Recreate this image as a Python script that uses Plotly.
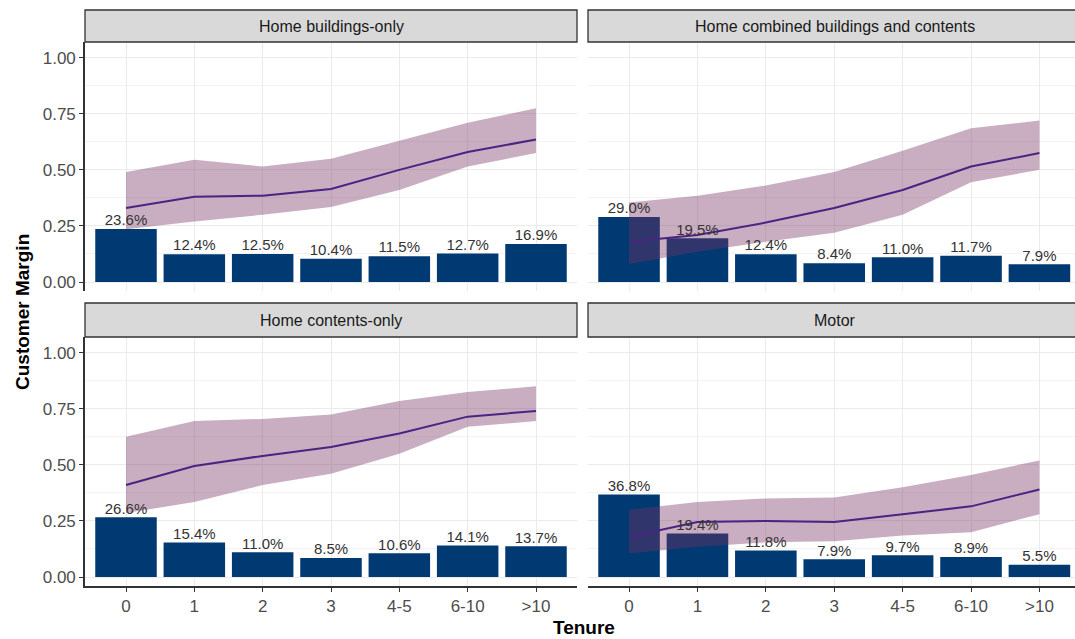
import plotly.graph_objects as go

# Tenure bands shown along the x axis of every panel
tenure = ["0", "1", "2", "3", "4-5", "6-10", ">10"]

# Panel titles (facet order: top-left, top-right, bottom-left, bottom-right)
products = [
    "Home buildings-only",
    "Home combined buildings and contents",
    "Home contents-only",
    "Motor",
]

# Share of customers in each tenure band (bars)
share_buildings = [0.236, 0.124, 0.125, 0.104, 0.115, 0.127, 0.169]
share_combined = [0.290, 0.195, 0.124, 0.084, 0.110, 0.117, 0.079]
share_contents = [0.266, 0.154, 0.110, 0.085, 0.106, 0.141, 0.137]
share_motor = [0.368, 0.194, 0.118, 0.079, 0.097, 0.089, 0.055]

# Average customer margin by tenure (line)
margin_buildings = [0.33, 0.38, 0.385, 0.415, 0.50, 0.58, 0.635]
margin_combined = [0.18, 0.21, 0.265, 0.33, 0.41, 0.515, 0.575]
margin_contents = [0.41, 0.495, 0.54, 0.58, 0.64, 0.715, 0.74]
margin_motor = [0.18, 0.245, 0.25, 0.245, 0.28, 0.315, 0.39]

# Interval around the margin (ribbon)
lower_buildings = [0.235, 0.27, 0.30, 0.335, 0.41, 0.515, 0.575]
upper_buildings = [0.49, 0.545, 0.515, 0.55, 0.63, 0.71, 0.775]
lower_combined = [0.08, 0.135, 0.18, 0.22, 0.30, 0.445, 0.50]
upper_combined = [0.355, 0.385, 0.43, 0.49, 0.585, 0.685, 0.72]
lower_contents = [0.285, 0.335, 0.41, 0.46, 0.55, 0.67, 0.695]
upper_contents = [0.625, 0.695, 0.705, 0.725, 0.785, 0.825, 0.85]
lower_motor = [0.105, 0.135, 0.155, 0.16, 0.185, 0.20, 0.28]
upper_motor = [0.30, 0.335, 0.35, 0.355, 0.40, 0.455, 0.52]

panels = [
    (share_buildings, margin_buildings, lower_buildings, upper_buildings),
    (share_combined, margin_combined, lower_combined, upper_combined),
    (share_contents, margin_contents, lower_contents, upper_contents),
    (share_motor, margin_motor, lower_motor, upper_motor),
]

BAR = "#013a72"
LINE = "#4a2383"
RIBBON = "rgba(120,50,100,0.40)"
FONT = "Liberation Sans, Arial, sans-serif"

W, H = 1075, 639
ML, MR, MT, MB = 85, 0, 10, 53
PW, PH = W - ML - MR, H - MT - MB


def px_x(x):
    return (x - ML) / PW


def px_y(y):
    return (H - MB - y) / PH


x_domains = [[0, px_x(577)], [px_x(588), 1.0]]
y_domains = [[px_y(291), px_y(42)], [0, px_y(337)]]
strip_y = [[px_y(42), 1.0], [px_y(337), px_y(303)]]
x_ranges = [[-0.6, 6.6], [-0.6, 6.52]]
strip_center = [px_x(331), px_x(834.5)]

fig = go.Figure()
xpos = list(range(len(tenure)))

for i, (share, margin, lo, hi) in enumerate(panels):
    row, col = divmod(i, 2)
    ax = "" if i == 0 else str(i + 1)
    xa, ya = "x" + ax, "y" + ax

    fig.add_trace(go.Bar(
        x=xpos, y=share, width=0.9, marker=dict(color=BAR, line=dict(width=0)),
        xaxis=xa, yaxis=ya, showlegend=False, hoverinfo="skip",
    ))
    fig.add_trace(go.Scatter(
        x=xpos + xpos[::-1], y=hi + lo[::-1], fill="toself", fillcolor=RIBBON,
        mode="lines", line=dict(width=0), xaxis=xa, yaxis=ya,
        showlegend=False, hoverinfo="skip",
    ))
    fig.add_trace(go.Scatter(
        x=xpos, y=margin, mode="lines", line=dict(color=LINE, width=2),
        xaxis=xa, yaxis=ya, showlegend=False, hoverinfo="skip",
    ))
    fig.add_trace(go.Scatter(
        x=xpos, y=share, mode="text",
        text=[f"{v * 100:.1f}%" for v in share], textposition="top center",
        textfont=dict(size=15, color="#333333", family=FONT),
        xaxis=xa, yaxis=ya, showlegend=False, hoverinfo="skip", cliponaxis=False,
    ))

    fig.layout["xaxis" + ax] = dict(
        domain=x_domains[col], range=x_ranges[col], anchor=ya,
        tickvals=xpos, ticktext=tenure, showticklabels=(row == 1),
        ticks="outside" if row == 1 else "", ticklen=4, tickcolor="#333333",
        tickfont=dict(size=17, color="#4d4d4d", family=FONT),
        showgrid=True, gridcolor="#ebebeb", gridwidth=1,
        showline=(row == 1), linecolor="#333333", linewidth=1.6,
        zeroline=False, fixedrange=True,
    )
    fig.layout["yaxis" + ax] = dict(
        domain=y_domains[row], range=[-0.04, 1.07], anchor=xa,
        tickvals=[0, 0.25, 0.5, 0.75, 1.0],
        ticktext=["0.00", "0.25", "0.50", "0.75", "1.00"],
        showticklabels=(col == 0), ticks="outside" if col == 0 else "",
        ticklen=4, tickcolor="#333333",
        tickfont=dict(size=17, color="#4d4d4d", family=FONT),
        showgrid=True, gridcolor="#ebebeb", gridwidth=1,
        minor=dict(tickvals=[0.125, 0.375, 0.625, 0.875], showgrid=True,
                   gridcolor="#f3f3f3", gridwidth=0.7),
        showline=(col == 0), linecolor="#333333", linewidth=1.6,
        zeroline=False, fixedrange=True,
    )

    fig.add_shape(
        type="rect", xref="paper", yref="paper",
        x0=x_domains[col][0], x1=x_domains[col][1] if col == 0 else 1.003,
        y0=strip_y[row][0], y1=strip_y[row][1],
        fillcolor="#d9d9d9", line=dict(color="#333333", width=1.3), layer="above",
    )
    fig.add_annotation(
        text=products[i], xref="paper", yref="paper",
        x=strip_center[col], y=sum(strip_y[row]) / 2,
        xanchor="center", yanchor="middle", showarrow=False,
        font=dict(size=16, color="#1a1a1a", family=FONT),
    )

fig.add_annotation(
    text="<b>Customer Margin</b>", xref="paper", yref="paper",
    x=px_x(22), y=px_y(312), textangle=-90, showarrow=False,
    xanchor="center", yanchor="middle",
    font=dict(size=19, color="#000000", family=FONT),
)
fig.add_annotation(
    text="<b>Tenure</b>", xref="paper", yref="paper",
    x=px_x(584), y=px_y(627), showarrow=False,
    xanchor="center", yanchor="middle",
    font=dict(size=19, color="#000000", family=FONT),
)

fig.update_layout(
    width=W, height=H,
    margin=dict(l=ML, r=MR, t=MT, b=MB, autoexpand=False),
    paper_bgcolor="white", plot_bgcolor="white",
    font=dict(family=FONT),
    barmode="overlay",
)

fig.write_html("out.html")
